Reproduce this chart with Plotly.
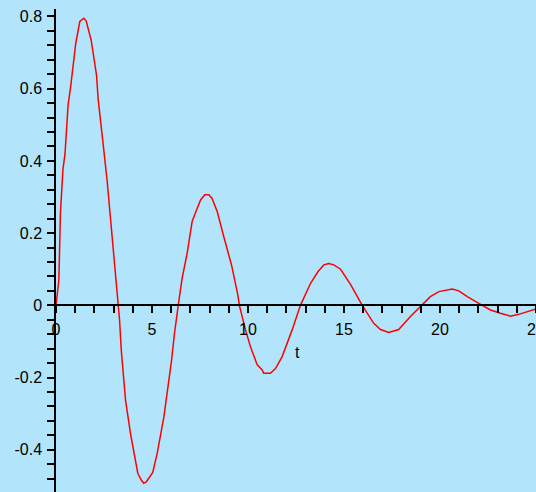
import plotly.graph_objects as go

t_vals = [0, 0.15, 0.23, 0.36, 0.47, 0.63, 0.755, 1.03, 1.24, 1.45, 1.57, 1.83, 2.11, 2.2,
          2.49, 2.66, 2.93, 3.05, 3.19, 3.31, 3.4, 3.62, 3.88, 4.14, 4.26, 4.44, 4.57, 4.7,
          5.04, 5.27, 5.62, 6.02, 6.17, 6.38, 6.57, 6.83, 7.09, 7.32, 7.53, 7.75, 7.96, 8.13,
          8.4, 8.74, 9.15, 9.47, 9.55, 9.87, 10.13, 10.48, 10.74, 10.82, 11.17, 11.43, 11.78,
          12.3, 12.73, 13.26, 13.64, 13.95, 14.21, 14.47, 14.82, 15.34, 15.95, 16.55, 16.9,
          17.33, 17.85, 18.46, 19.07, 19.5, 19.94, 20.29, 20.64, 20.98, 21.42, 22.2, 22.63,
          23.15, 23.67, 24.1, 24.54, 25.0]
y_vals = [0, 0.07, 0.255, 0.375, 0.42, 0.555, 0.602, 0.726, 0.786, 0.795, 0.788, 0.735, 0.638, 0.569,
          0.43, 0.347, 0.186, 0.112, 0.02, -0.04, -0.124, -0.262, -0.355, -0.438, -0.465, -0.484, -0.493, -0.489,
          -0.463, -0.41, -0.309, -0.152, -0.078, 0.005, 0.075, 0.144, 0.232, 0.264, 0.292, 0.306, 0.306, 0.296,
          0.259, 0.19, 0.11, 0.029, 0.0, -0.068, -0.115, -0.165, -0.179, -0.188, -0.188, -0.175, -0.142,
          -0.068, 0.0, 0.061, 0.093, 0.112, 0.116, 0.112, 0.1, 0.058, 0.0, -0.05, -0.067,
          -0.075, -0.067, -0.031, 0.0, 0.024, 0.038, 0.042, 0.045, 0.04, 0.024, 0.0, -0.013,
          -0.022, -0.03, -0.025, -0.018, -0.01]

x_tickvals = [0, 5, 10, 15, 20, 25]
x_ticktext = ["0", "5", "10", "15", "20", "25"]
y_tickvals = [-0.4, -0.2, 0, 0.2, 0.4, 0.6, 0.8]
y_ticktext = ["-0.4", "-0.2", "0", "0.2", "0.4", "0.6", "0.8"]
x_title = "t"

bg = "rgb(178,228,252)"
font = dict(family="Liberation Sans, Arial, sans-serif", size=16, color="black")

y_min, y_max = -0.517, 0.8207

fig = go.Figure()
fig.add_trace(go.Scatter(x=t_vals, y=y_vals, mode="lines",
                         line=dict(color="red", width=1.5), showlegend=False,
                         hoverinfo="skip"))

fig.update_layout(
    width=536, height=492,
    margin=dict(l=56, r=0, t=9, b=0),
    paper_bgcolor=bg, plot_bgcolor=bg,
    font=font,
    xaxis=dict(range=[0, 25], anchor="free", position=(0 - y_min) / (y_max - y_min),
               showgrid=False, zeroline=False, showline=True, linecolor="black", linewidth=1.5,
               tickmode="array", tickvals=x_tickvals, ticktext=x_ticktext,
               ticks="outside", ticklen=7, tickwidth=1.5, tickcolor="black",
               minor=dict(dtick=1, tick0=0, ticks="outside", ticklen=7, tickwidth=1.5, tickcolor="black", showgrid=False),
               tickfont=font, ticklabeloverflow="allow", automargin=False, ticklabelstandoff=3),
    yaxis=dict(range=[y_min, y_max], domain=[0, 1],
               showgrid=False, zeroline=False, showline=True, linecolor="black", linewidth=1.5,
               tickmode="array", tickvals=y_tickvals, ticktext=y_ticktext,
               ticks="outside", ticklen=7, tickwidth=1.5, tickcolor="black",
               minor=dict(dtick=0.04, tick0=0, ticks="outside", ticklen=7, tickwidth=1.5, tickcolor="black", showgrid=False),
               tickfont=font, automargin=False, ticklabelstandoff=2),
    annotations=[dict(text=x_title, x=12.6, y=-0.132, xref="x", yref="y",
                      showarrow=False, font=font)],
)

fig.write_html("out.html", config={"displayModeBar": False},
               post_script="document.body.style.margin='0';document.body.style.overflow='hidden';document.documentElement.style.overflow='hidden';")
